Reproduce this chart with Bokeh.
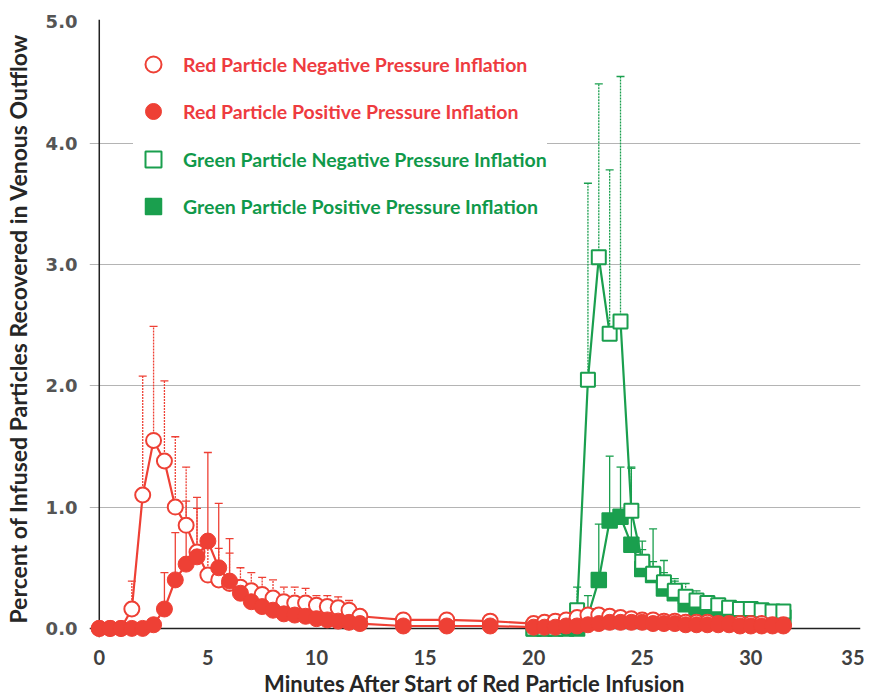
from bokeh.plotting import figure
from bokeh.models import (ColumnDataSource, Range1d, FixedTicker, NumeralTickFormatter,
                          Span, Whisker, TeeHead, Legend, LegendItem)
from bokeh.embed import file_html
from bokeh.resources import INLINE

# ---- data ----
t_red = [0, 0.5, 1, 1.5, 2, 2.5, 3, 3.5, 4, 4.5, 5, 5.5, 6, 6.5, 7, 7.5, 8, 8.5, 9, 9.5,
         10, 10.5, 11, 11.5, 12, 14, 16, 18,
         20, 20.5, 21, 21.5, 22, 22.5, 23, 23.5, 24, 24.5, 25, 25.5, 26, 26.5, 27, 27.5,
         28, 28.5, 29, 29.5, 30, 30.5, 31, 31.5]
red_neg = [0.00, 0.00, 0.00, 0.16, 1.10, 1.55, 1.38, 1.00, 0.85, 0.63,
           0.44, 0.40, 0.37, 0.34, 0.31, 0.28, 0.25, 0.22, 0.21, 0.21,
           0.19, 0.18, 0.17, 0.15, 0.10, 0.07, 0.07, 0.06,
           0.04, 0.05, 0.06, 0.07, 0.09, 0.11, 0.11, 0.10, 0.09, 0.08, 0.07, 0.07,
           0.06, 0.06, 0.05, 0.05, 0.05, 0.04, 0.04, 0.04, 0.04, 0.04, 0.03, 0.03]
red_neg_err = [0, 0, 0, 0.23, 0.98, 0.94, 0.66, 0.58, 0.48, 0.36,
               0.22, 0.26, 0.25, 0.16, 0.15, 0.14, 0.15, 0.12, 0.13, 0.12,
               0.08, 0.09, 0.09, 0.08, 0.03, 0.03, 0.03, 0.03,
               0.02, 0.02, 0.02, 0.02, 0.03, 0.03, 0.03, 0.03, 0.03, 0.02, 0.02, 0.02,
               0.02, 0.02, 0.02, 0.02, 0.02, 0.02, 0.02, 0.02, 0.02, 0.02, 0.02, 0.02]
red_pos = [0.00, 0.00, 0.00, 0.00, 0.00, 0.03, 0.16, 0.40, 0.53, 0.59,
           0.72, 0.50, 0.39, 0.29, 0.22, 0.18, 0.15, 0.12, 0.11, 0.10,
           0.08, 0.07, 0.06, 0.05, 0.04, 0.02, 0.02, 0.02,
           0.01, 0.01, 0.01, 0.02, 0.02, 0.03, 0.04, 0.05, 0.05, 0.05, 0.05, 0.04,
           0.04, 0.04, 0.03, 0.03, 0.03, 0.03, 0.03, 0.02, 0.02, 0.02, 0.02, 0.02]
red_pos_err = [0, 0, 0, 0, 0, 0.02, 0.30, 0.39, 0.52, 0.49,
               0.73, 0.53, 0.35, 0.10, 0.06, 0.05, 0.05, 0.04, 0.04, 0.04,
               0.03, 0.03, 0.03, 0.03, 0.02, 0.01, 0.01, 0.01,
               0.01, 0.01, 0.01, 0.01, 0.01, 0.01, 0.01, 0.01, 0.01, 0.01, 0.01, 0.01,
               0.01, 0.01, 0.01, 0.01, 0.01, 0.01, 0.01, 0.01, 0.01, 0.01, 0.01, 0.01]

t_green = [20, 20.5, 21, 21.5, 22, 22.5, 23, 23.5, 24, 24.5, 25, 25.5, 26, 26.5, 27, 27.5,
           28, 28.5, 29, 29.5, 30, 30.5, 31, 31.5]
green_neg = [0.00, 0.00, 0.00, 0.02, 0.15, 2.05, 3.06, 2.43, 2.53, 0.97, 0.55, 0.45,
             0.38, 0.31, 0.26, 0.23, 0.21, 0.19, 0.17, 0.16, 0.16, 0.15, 0.14, 0.14]
green_neg_err = [0, 0, 0, 0.02, 0.19, 1.62, 1.43, 1.35, 2.02, 0.36, 0.10, 0.10,
                 0.08, 0.10, 0.11, 0.08, 0.06, 0.05, 0.04, 0.03, 0.03, 0.03, 0.03, 0.03]
green_pos = [0, 0, 0, 0, 0, 0.10, 0.40, 0.89, 0.92, 0.69, 0.49, 0.44,
             0.33, 0.29, 0.20, 0.17, 0.15, 0.14, 0.13, 0.12, 0.11, 0.10, 0.10, 0.09]
green_pos_err = [0, 0, 0, 0, 0, 0.17, 0.46, 0.53, 0.41, 0.63, 0.23, 0.38,
                 0.23, 0.10, 0.06, 0.05, 0.04, 0.04, 0.03, 0.03, 0.03, 0.03, 0.03, 0.03]

x_ticks = [0, 5, 10, 15, 20, 25, 30, 35]
y_ticks = [0, 1, 2, 3, 4, 5]
labels = ["Red Particle Negative Pressure Inflation",
          "Red Particle Positive Pressure Inflation",
          "Green Particle Negative Pressure Inflation",
          "Green Particle Positive Pressure Inflation"]
x_title = "Minutes After Start of Red Particle Infusion"
y_title = "Percent of Infused Particles Recovered in Venous Outflow"

RED = "#ee4035"
GREEN = "#1a9f4e"
RED_TXT = "#ee3b40"
GREEN_TXT = "#10994a"

FH = 618
p = figure(frame_width=771, frame_height=FH, output_backend="svg", toolbar_location=None,
           x_range=Range1d(-0.45, 35.05), y_range=Range1d(-0.075, 5.02),
           min_border_left=88, min_border_top=19, min_border_right=4, min_border_bottom=0)
p.outline_line_color = None
p.background_fill_color = "white"

# axes
p.xaxis.ticker = FixedTicker(ticks=x_ticks)
p.yaxis.ticker = FixedTicker(ticks=y_ticks)
p.yaxis.formatter = NumeralTickFormatter(format="0.0")
for ax in (p.xaxis, p.yaxis):
    ax.axis_line_color = None
    ax.major_tick_line_color = None
    ax.minor_tick_line_color = None
p.xaxis.major_label_text_font = "Lato"
p.xaxis.major_label_text_font_style = "bold"
p.xaxis.major_label_text_font_size = "20px"
p.xaxis.major_label_text_color = "#404040"
p.xaxis.major_label_standoff = 6
p.xaxis.axis_label = x_title
p.xaxis.axis_label_text_font = "Lato"
p.xaxis.axis_label_text_font_style = "bold"
p.xaxis.axis_label_text_font_size = "22px"
p.xaxis.axis_label_text_color = "#262626"
p.xaxis.axis_label_standoff = 2

p.yaxis.major_label_text_font = "DejaVu Sans"
p.yaxis.major_label_text_font_style = "bold"
p.yaxis.major_label_text_font_size = "18px"
p.yaxis.major_label_text_color = "#555555"
p.yaxis.major_label_standoff = 6
p.yaxis.axis_label = y_title
p.yaxis.axis_label_text_font = "Lato"
p.yaxis.axis_label_text_font_style = "bold"
p.yaxis.axis_label_text_font_size = "23px"
p.yaxis.axis_label_text_color = "#262626"
p.yaxis.axis_label_standoff = 11

p.xgrid.visible = False
p.ygrid.ticker = FixedTicker(ticks=[1, 2, 3, 4])
p.ygrid.grid_line_color = "#b4b4b4"
p.ygrid.grid_line_width = 1.2

p.add_layout(Span(location=0, dimension="height", line_color="#222222", line_width=1.5, level="underlay"))
p.add_layout(Span(location=0, dimension="width", line_color="#222222", line_width=1.5, level="underlay"))

def src(t, y, e):
    return ColumnDataSource(dict(t=t, y=y, top=[a + b for a, b in zip(y, e)]))

s_rn = src(t_red, red_neg, red_neg_err)
s_rp = src(t_red, red_pos, red_pos_err)
s_gn = src(t_green, green_neg, green_neg_err)
s_gp = src(t_green, green_pos, green_pos_err)

def whisk(s, color, dash):
    w = Whisker(source=s, base="t", lower="y", upper="top", dimension="height",
                line_color=color, line_width=1.3, line_dash=dash, lower_head=None,
                upper_head=TeeHead(size=8, line_color=color, line_width=1.3), level="underlay")
    p.add_layout(w)

whisk(s_gp, GREEN, "solid")
whisk(s_gn, GREEN, "2 1")
whisk(s_rn, RED, "2 1")
whisk(s_rp, RED, "solid")

# green positive (filled squares)
p.line("t", "y", source=s_gp, line_color=GREEN, line_width=2.2)
r_gp = p.scatter("t", "y", source=s_gp, marker="square", size=15, fill_color=GREEN,
                 line_color=GREEN, line_width=1.5)
# green negative (open squares)
p.line("t", "y", source=s_gn, line_color=GREEN, line_width=2.2)
r_gn = p.scatter("t", "y", source=s_gn, marker="square", size=14, fill_color="white",
                 line_color=GREEN, line_width=2)
# red negative (open circles)
p.line("t", "y", source=s_rn, line_color=RED, line_width=2.2)
r_rn = p.scatter("t", "y", source=s_rn, marker="circle", size=15, fill_color="white",
                 line_color=RED, line_width=2)
# red positive (filled circles)
p.line("t", "y", source=s_rp, line_color=RED, line_width=2.2)
r_rp = p.scatter("t", "y", source=s_rp, marker="circle", size=16, fill_color=RED,
                 line_color=RED, line_width=1)

def make_legend(items, color, top_off):
    lg = Legend(items=items, location=(44, FH - top_off - 87), orientation="vertical",
                padding=0, spacing=7, glyph_width=40, glyph_height=40, label_height=40,
                label_standoff=10, border_line_color=None, background_fill_color="white",
                background_fill_alpha=1.0, label_text_font="Lato", label_text_font_style="bold",
                label_text_font_size="19.5px", label_text_color=color)
    p.add_layout(lg)

make_legend([LegendItem(label=labels[0], renderers=[r_rn]),
             LegendItem(label=labels[1], renderers=[r_rp])], RED_TXT, 25)
make_legend([LegendItem(label=labels[2], renderers=[r_gn]),
             LegendItem(label=labels[3], renderers=[r_gp])], GREEN_TXT, 120)

open("out.html", "w").write(file_html(p, INLINE))
